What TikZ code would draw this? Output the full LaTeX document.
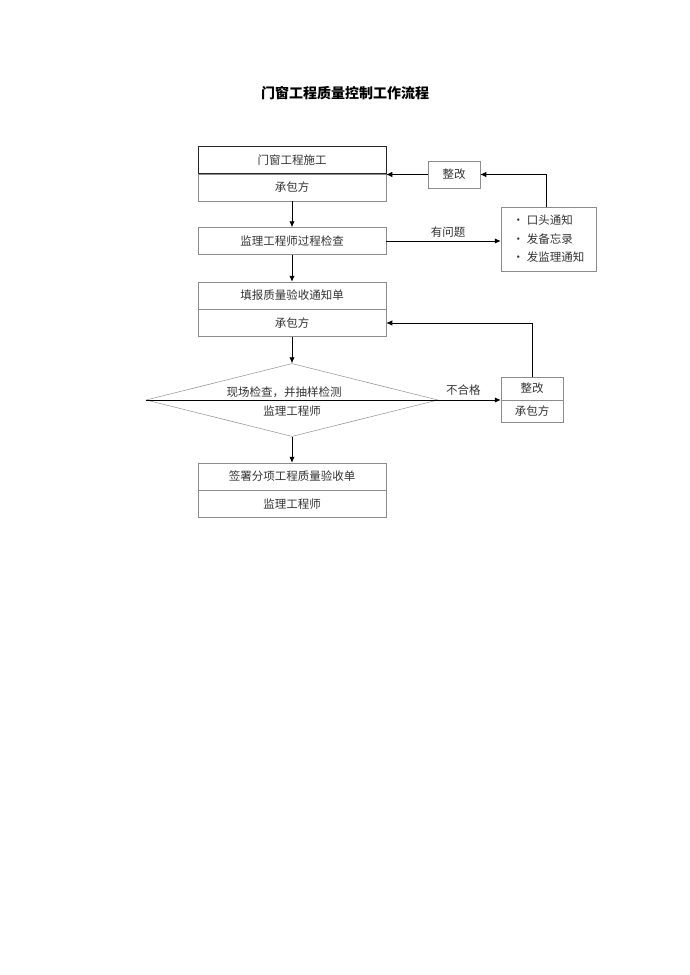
\documentclass[tikz,border=0pt]{standalone}
\usepackage{fontspec}
\setmainfont{Noto Sans CJK SC}
\usetikzlibrary{positioning}
\usetikzlibrary{arrows.meta,shapes}
\tikzset{flow box/.style={
    rectangle, draw=gray!90, line width=0.5pt,
    inner sep=0pt,
    minimum width=188pt,
    minimum height=27pt,
    text=black!80,
    font=\fontsize{11.5}{14}\selectfont
  },
  fix box/.style={
    flow box,
    minimum width=#1
  },
  check/.style={
    diamond, draw=gray!90, line width=0.5pt,
    inner sep=0pt,
    minimum width=292pt,
    minimum height=73pt
  },
  plain text/.style={
    text=black!80,
    font=\fontsize{11.5}{14}\selectfont
  },
  flow/.style={-{Latex[length=6pt,width=5.5pt]},line width=0.9pt}
}

\begin{document}
\begin{tikzpicture}[x=1pt,y=-1pt]
  \useasboundingbox (0,0) rectangle (690,975);

  \node[font=\fontsize{14}{16}\selectfont\bfseries] (title) at (345,93) {门窗工程质量控制工作流程};

  % main column
  \node[flow box,draw=black!85] (A) at (292,160) {门窗工程施工};
  \node[flow box]  (Ab) [below=0pt of A]  {承包方};
  \node[flow box]  (B)  at (292,241)      {监理工程师过程检查};
  \node[flow box]  (C)  at (292,295.5)    {填报质量验收通知单};
  \node[flow box]  (Cb) [below=0pt of C]  {承包方};
  \node[check]     (D)  at (292,400)      {};
  \node[plain text] (D1) at (284,392) {现场检查，并抽样检测};
  \node[plain text] (D2) at (292,411) {监理工程师};
  \node[flow box]  (H)  at (292,476.5)    {签署分项工程质量验收单};
  \node[flow box]  (Hb) [below=0pt of H]  {监理工程师};

  % right side
  \node[fix box=52pt] (E) at (454,174.5) {整改};
  \node[fix box=95pt,minimum height=64pt,align=left,
        font=\fontsize{11.5}{18.5}\selectfont] (F) at (548.5,239)
        {• 口头通知\\• 发备忘录\\• 发监理通知};
  \node[fix box=62pt,minimum height=23pt] (G)  at (532,388.5) {整改};
  \node[fix box=62pt,minimum height=22pt] (Gb) [below=0pt of G] {承包方};

  \draw[flow] (Ab) -- (B);
  \draw[flow] (B) -- (C);
  \draw[flow] (Cb) -- (D);
  \draw[flow] (D) -- (H);
  \draw[line width=0.9pt] (D.west) -- (D.east);

  \draw[flow] (B.east) -- node[plain text,above,pos=0.54] {有问题} (B.east -| F.west);
  \draw[flow] ([xshift=-2pt]F.north) |- (E.east);
  \draw[flow] (E.west) -- (E.west -| A.east);
  \draw[flow] (D.east) -- node[plain text,above,pos=0.4,yshift=1pt] {不合格} (D.east -| G.west);
  \draw[flow] (G.north) |- (Cb.east);
\end{tikzpicture}
\end{document}
